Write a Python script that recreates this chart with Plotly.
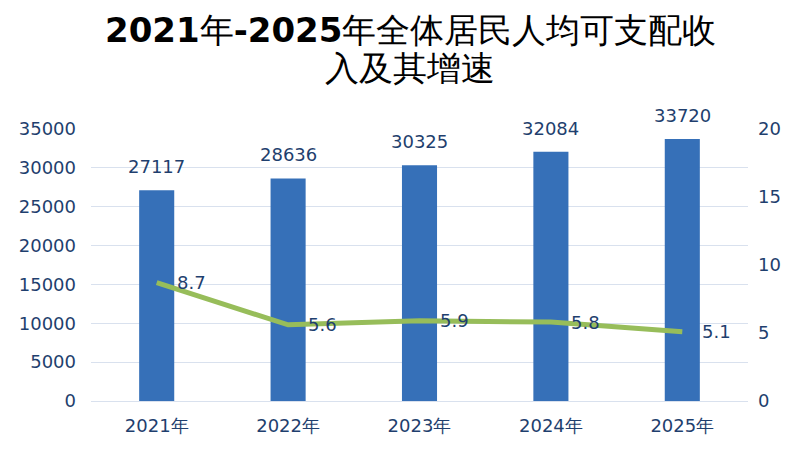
import plotly.graph_objects as go

years = ["2021年", "2022年", "2023年", "2024年", "2025年"]
income = [27117, 28636, 30325, 32084, 33720]
growth = [8.7, 5.6, 5.9, 5.8, 5.1]
title_lines = ["<b>2021</b>年<b>-2025</b>年全体居民人均可支配收", "入及其增速"]

tick_color = "#1F3F6E"
font_name = "DejaVu Sans"

fig = go.Figure()

fig.add_trace(go.Bar(
    x=years, y=income,
    marker=dict(color="#3670B8", line=dict(width=0)),
    width=0.267,
    yaxis="y",
))

fig.add_trace(go.Scatter(
    x=years, y=growth,
    mode="lines",
    line=dict(color="#97BD5A", width=5),
    cliponaxis=False,
    yaxis="y2",
))

# value labels above the bars
for yr, v in zip(years, income):
    fig.add_annotation(
        x=yr, y=v, xref="x", yref="y", text=str(v), showarrow=False,
        yanchor="bottom", yshift=11,
        font=dict(size=18, color=tick_color, family=font_name),
    )

# growth labels to the right of the line points
for yr, g in zip(years, growth):
    fig.add_annotation(
        x=yr, y=g, xref="x", yref="y2", text=str(g), showarrow=False,
        xanchor="left", xshift=18,
        font=dict(size=18, color=tick_color, family=font_name),
    )

# two-line title, placed relative to the plot area
for line, ypos in zip(title_lines, [1.364, 1.224]):
    fig.add_annotation(
        x=0.486, y=ypos, xref="paper", yref="paper", yanchor="middle",
        text=line, showarrow=False,
        font=dict(size=34, color="black", family=font_name),
    )

fig.update_layout(
    width=800, height=454,
    paper_bgcolor="white", plot_bgcolor="white",
    showlegend=False,
    margin=dict(l=83, r=60, t=121, b=61),
    font=dict(family=font_name, color=tick_color),
    xaxis=dict(
        showgrid=False, showline=True, linecolor="#D9E1EE",
        tickfont=dict(size=18, color=tick_color), ticks="",
        ticklabelstandoff=8, automargin=False,
    ),
    yaxis=dict(
        range=[0, 35000], dtick=5000, tickformat="d",
        showgrid=True, gridcolor="#D9E1EE",
        zeroline=False, tickfont=dict(size=18, color=tick_color),
        ticklabelstandoff=14, automargin=False,
    ),
    yaxis2=dict(
        range=[0, 20], dtick=5, overlaying="y", side="right",
        showgrid=False, zeroline=False, automargin=False,
        tickfont=dict(size=18, color=tick_color), ticklabelstandoff=9,
    ),
)

fig.write_html("out.html")
